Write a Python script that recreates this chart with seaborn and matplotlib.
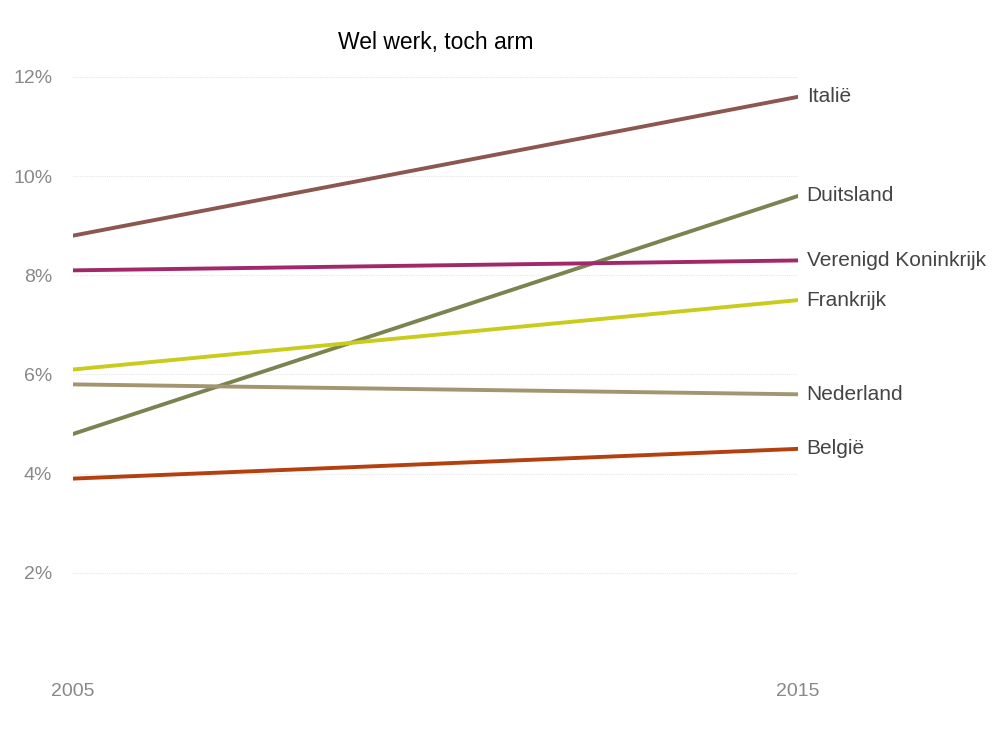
import pandas as pd
import matplotlib.pyplot as plt
import seaborn as sns

years = [2005, 2015]
countries = ["Italië", "Duitsland", "Verenigd Koninkrijk", "Frankrijk", "Nederland", "België"]
values_2005 = [8.8, 4.8, 8.1, 6.1, 5.8, 3.9]
values_2015 = [11.6, 9.6, 8.3, 7.5, 5.6, 4.5]
colors = ["#8b5750", "#7b8450", "#a2286c", "#c9cc1c", "#a39570", "#b4400f"]
y_ticks = [2, 4, 6, 8, 10, 12]


def plot_lines(df: pd.DataFrame):
    sns.set_style("white")
    plt.rcParams["font.family"] = ["Liberation Sans", "DejaVu Sans"]

    fig = plt.figure(figsize=(10.08, 7.36), dpi=100)
    ax = fig.add_axes([0.0724, 0.087, 0.7193, 0.8084])

    palette = dict(zip(countries, colors))
    sns.lineplot(data=df, x="year", y="value", hue="country", palette=palette,
                 linewidth=2.8, legend=False, ax=ax)

    for c in countries:
        last = df[(df.country == c) & (df.year == years[-1])]["value"].iloc[0]
        ax.text(years[-1] + 0.12, last, c, color="#444444", fontsize=15,
                va="center", ha="left")

    ax.set_xlim(years[0], years[-1])
    ax.set_ylim(0, 12)
    ax.set_xticks(years)
    ax.set_xticklabels([str(y) for y in years])
    ax.set_yticks([0] + y_ticks)
    ax.set_yticklabels([""] + [f"{t}%" for t in y_ticks])
    ax.grid(axis="y", color="#e6e6e6", linestyle=(0, (1, 1)), linewidth=0.8)
    ax.set_axisbelow(True)
    ax.tick_params(axis="y", length=0, pad=15, labelsize=14, labelcolor="#888888")
    ax.tick_params(axis="x", length=0, pad=8, labelsize=14, labelcolor="#888888")
    for s in ax.spines.values():
        s.set_visible(False)
    ax.set_xlabel("")
    ax.set_ylabel("")
    ax.set_title("Wel werk, toch arm", fontsize=16.5, color="black", pad=20)

    fig.savefig("out.png", dpi=100)


if __name__ == "__main__":
    df = pd.DataFrame({
        "country": countries * 2,
        "year": [years[0]] * len(countries) + [years[1]] * len(countries),
        "value": values_2005 + values_2015,
    })
    plot_lines(df)
